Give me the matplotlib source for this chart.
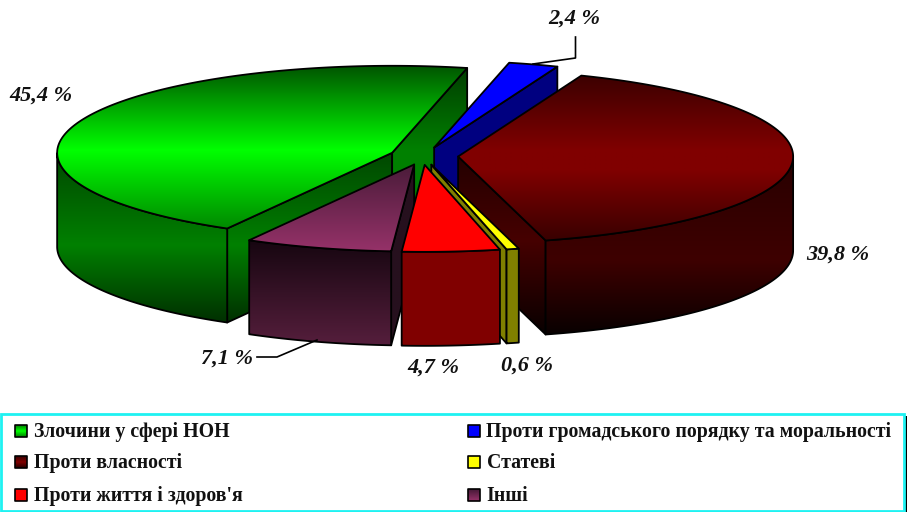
import numpy as np
import matplotlib
matplotlib.use('Agg')
import matplotlib.pyplot as plt
from matplotlib.patches import Polygon, Rectangle

names = ['Злочини у сфері НОН', 'Проти громадського порядку та моральності', 'Проти власності',
         'Статеві', 'Проти життя і здоров\'я', 'Інші']
values = [45.4, 2.4, 39.8, 0.6, 4.7, 7.1]
labels = ['45,4 %', '2,4 %', '39,8 %', '0,6 %', '4,7 %', '7,1 %']

# gradient stops (pixel y, colour) for each slice
top_stops = [
    [(66, (0, 85, 0)), (150, (0, 255, 0)), (230, (0, 135, 0))],
    [(60, (0, 0, 255)), (160, (0, 0, 255))],
    [(75, (60, 0, 0)), (150, (128, 0, 0)), (170, (128, 0, 0)), (242, (55, 0, 0))],
    [(160, (255, 255, 0)), (255, (255, 255, 0))],
    [(160, (255, 0, 0)), (255, (255, 0, 0))],
    [(165, (75, 28, 58)), (252, (150, 50, 105))],
]
wall_stops = [
    [(150, (0, 70, 0)), (245, (0, 128, 0)), (325, (0, 45, 0))],
    [(60, (0, 0, 128)), (250, (0, 0, 128))],
    [(155, (40, 0, 0)), (260, (62, 0, 0)), (335, (8, 0, 0))],
    [(160, (128, 128, 0)), (350, (128, 128, 0))],
    [(160, (128, 0, 0)), (350, (128, 0, 0))],
    [(240, (22, 6, 16)), (345, (85, 30, 60))],
]
# the cut faces only differ from the outer wall on a few slices
face_stops = [
    [(66, (0, 60, 0)), (150, (0, 128, 0)), (245, (0, 128, 0))],
    wall_stops[1],
    [(155, (35, 0, 0)), (240, (70, 0, 0)), (335, (8, 0, 0))],
    wall_stops[3],
    wall_stops[4],
    [(165, (38, 16, 30)), (345, (38, 16, 30))],
]
swatch_stops = [
    [(0, (0, 130, 0)), (0.5, (0, 255, 0)), (1, (0, 130, 0))],
    [(0, (0, 0, 255)), (1, (0, 0, 255))],
    [(0, (60, 0, 0)), (0.5, (128, 0, 0)), (1, (40, 0, 0))],
    [(0, (255, 255, 0)), (1, (255, 255, 0))],
    [(0, (255, 0, 0)), (1, (255, 0, 0))],
    [(0, (70, 25, 55)), (1, (150, 50, 105))],
]

label_pos = [(41, 96), (574, 19), (838, 255), (527, 366), (433, 368), (227, 359)]
legend_pos = [(15, 431), (468, 431), (15, 462), (468, 462), (15, 495), (468, 495)]
nudge = [0, 0, 0, -1, -2, 0]

cx, cy = 424, 156
rx, ry = 335, 87
depth = 94
explode = 0.102
start = 209.5

fig = plt.figure(figsize=(9.07, 5.12), dpi=100)
ax = fig.add_axes([0, 0, 1, 1])
ax.axis('off')

z = [1]


def grad_fill(pts, stops, lw=1.3):
    pts = np.array(pts)
    ys = np.arange(int(pts[:, 1].min()) - 1, int(pts[:, 1].max()) + 2)
    sy = [s[0] for s in stops]
    rgb = np.array([np.interp(ys, sy, [s[1][k] for s in stops]) for k in range(3)]).T / 255
    x0, x1 = pts[:, 0].min() - 1, pts[:, 0].max() + 1
    im = ax.imshow(rgb[:, None, :], extent=(x0, x1, ys[-1], ys[0]), aspect='auto',
                   interpolation='bilinear', zorder=z[0])
    im.set_clip_path(Polygon(pts, closed=True, transform=ax.transData))
    ax.add_patch(Polygon(pts, closed=True, fill=False, ec='black', lw=lw, zorder=z[0] + 0.5,
                         joinstyle='round'))
    z[0] += 1


shares = np.array(values) / sum(values) * 360
starts = start + np.concatenate(([0], np.cumsum(shares)[:-1]))

# painted back to front
for i in [0, 1, 2, 3, 5, 4]:
    a0, a1 = starts[i], starts[i] + shares[i]
    mid = np.radians((a0 + a1) / 2)
    ax0 = cx + explode * rx * np.sin(mid) + nudge[i]
    ay0 = cy - explode * ry * np.cos(mid)
    th = np.radians(np.linspace(a0, a1, 500))
    arc = np.column_stack((ax0 + rx * np.sin(th), ay0 - ry * np.cos(th)))
    apex = (ax0, ay0)

    # cut faces, only the ones turned towards the viewer
    if np.cos(np.radians(a0 - 90)) < 0:
        p = arc[0]
        stops = wall_stops[i] if i == 0 else face_stops[i]
        grad_fill([apex, p, (p[0], p[1] + depth), (apex[0], apex[1] + depth)], stops)
    if np.cos(np.radians(a1 + 90)) < 0:
        p = arc[-1]
        grad_fill([apex, p, (p[0], p[1] + depth), (apex[0], apex[1] + depth)], face_stops[i])

    # outer wall, front half of the ellipse
    front = arc[np.cos(th) < 0]
    if len(front) > 1:
        low = front[::-1] + [0, depth]
        grad_fill(np.vstack((front, low)), wall_stops[i])

    grad_fill(np.vstack(([apex], arc)), top_stops[i])

# leader lines
ax.plot([575.5, 575.5, 533], [37, 58, 64], color='black', lw=1.2, zorder=z[0])
ax.plot([257, 277, 317], [357, 357, 340], color='black', lw=1.2, zorder=z[0])

for t, (x, y) in zip(labels, label_pos):
    ax.text(x, y, t, family='Liberation Serif', weight='bold', style='italic', fontsize=16,
            ha='center', va='center', color='#111111', zorder=z[0] + 1)

# legend box with shadow
ax.add_patch(Rectangle((3, 416), 904, 96, fc='black', ec='none', zorder=z[0] + 1))
ax.add_patch(Rectangle((1, 413.5), 903, 97, fc='white', ec='#1ef2f2', lw=2, zorder=z[0] + 2))
z[0] += 3

for i, (x, y) in enumerate(legend_pos):
    stops = [(y - 6 + s[0] * 12, s[1]) for s in swatch_stops[i]]
    grad_fill([(x, y - 6), (x + 12, y - 6), (x + 12, y + 6), (x, y + 6)], stops, lw=1.2)
    ax.text(x + 18.5, y + 1, names[i], family='Liberation Serif', weight='bold', fontsize=14.35,
            ha='left', va='center', color='#111111', zorder=z[0] + 1)

ax.set_xlim(0, 907)
ax.set_ylim(512, 0)
fig.savefig('out.png', dpi=100, facecolor='white')
